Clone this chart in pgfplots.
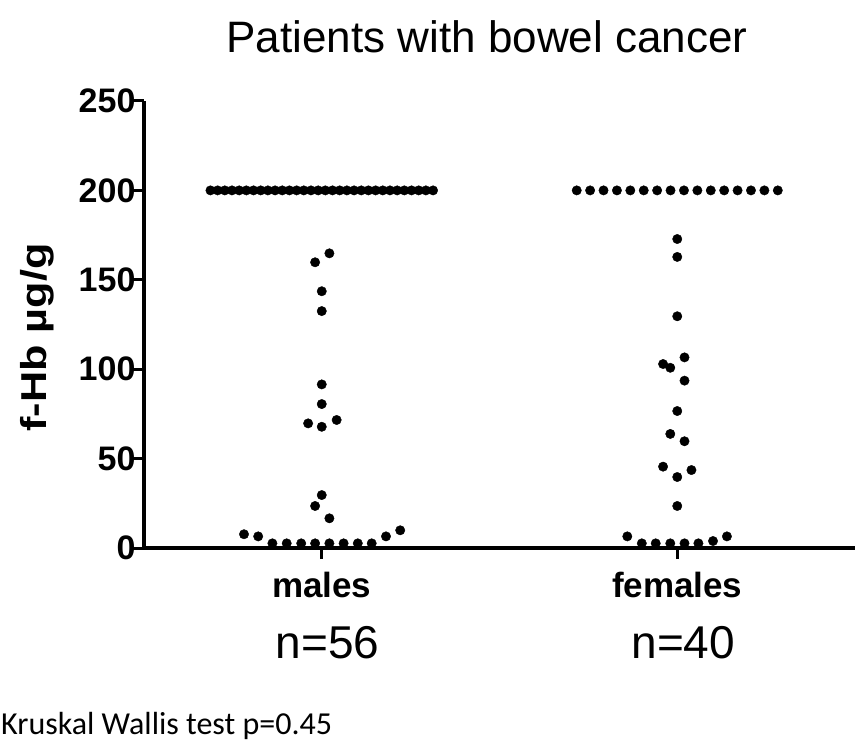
\documentclass[border=0pt]{standalone}
\usepackage{pgfplots}
\pgfplotsset{compat=1.18}
\usepackage{fontspec}
\setmainfont{Liberation Sans}
\newfontfamily\calibri{Carlito}
\newfontfamily\widesans[FakeStretch=1.2]{Liberation Sans}

% males: 32 patients at the upper limit (200), the rest spread out
\pgfplotstableread{
x y
0.6869 200
0.7071 200
0.7273 200
0.7475 200
0.7677 200
0.7879 200
0.8081 200
0.8283 200
0.8485 200
0.8687 200
0.8889 200
0.9091 200
0.9293 200
0.9495 200
0.9697 200
0.9899 200
1.0101 200
1.0303 200
1.0505 200
1.0707 200
1.0909 200
1.1111 200
1.1313 200
1.1515 200
1.1717 200
1.1919 200
1.2121 200
1.2323 200
1.2525 200
1.2727 200
1.2929 200
1.3131 200
1.0215 164.8
0.9813 159.8
1.0000 143.6
1.0000 132.5
1.0000 91.5
1.0000 80.5
0.9617 69.7
1.0000 67.8
1.0419 71.6
1.0000 29.6
0.9813 23.5
1.0215 16.6
0.7813 7.7
0.8212 6.5
0.8612 2.6
0.9014 2.6
0.9422 2.6
0.9813 2.6
1.0215 2.6
1.0615 2.6
1.1014 2.6
1.1405 2.6
1.1807 6.5
1.2207 9.9
}\males

\pgfplotstableread{
x y
1.7172 200
1.7549 200
1.7926 200
1.8303 200
1.8680 200
1.9057 200
1.9434 200
1.9811 200
2.0189 200
2.0566 200
2.0943 200
2.1320 200
2.1697 200
2.2074 200
2.2451 200
2.2828 200
2.0000 172.8
2.0000 162.8
2.0000 129.6
2.0204 106.6
1.9601 102.9
1.9804 100.8
2.0204 93.6
2.0000 76.6
1.9804 63.8
2.0204 59.7
1.9601 45.5
2.0399 43.6
2.0000 39.7
2.0000 23.5
1.8595 6.5
1.9003 2.6
1.9394 2.6
1.9804 2.6
2.0204 2.6
2.0595 2.6
2.1006 3.9
2.1397 6.5
}\females

\begin{document}
\begin{tikzpicture}
\useasboundingbox (0,0) rectangle (858pt,745pt);
\begin{axis}[
    scale only axis,
    width=711pt, height=447pt,
    at={(144pt,197pt)}, anchor=south west,
    xmin=0.5, xmax=2.5,
    ymin=0, ymax=250,
    axis x line*=bottom, axis y line*=left,
    axis line style={line width=3.5pt},
    xtick={1,2}, xticklabels={males,females},
    ytick={0,50,...,250},
    tick align=outside,
    major tick length=11pt,
    every tick/.style={black, line width=3pt},
    yticklabel style={font=\fontsize{34}{36}\selectfont\bfseries, xshift=6pt},
    xticklabel style={font=\fontsize{35}{37}\selectfont\bfseries, yshift=-10pt},
    /pgf/number format/assume math mode=true,
    ylabel={f-Hb µg/g},
    ylabel style={font=\widesans\fontsize{36}{38}\selectfont\bfseries,
        at={([xshift=-107pt]rel axis cs:0,0.471)}, anchor=center},
    clip=false,
]
\addplot[only marks, mark=*, mark size=4.7pt, black] table {\males};
\addplot[only marks, mark=*, mark size=4.7pt, black] table {\females};
\node[font=\fontsize{46}{48}\selectfont, xshift=6pt] at (axis cs:1,-53) {n=56};
\node[font=\fontsize{46}{48}\selectfont, xshift=6pt] at (axis cs:2,-53) {n=40};
\end{axis}
\node[anchor=base, font=\fontsize{44}{46}\selectfont] at (487pt,692pt) {Patients with bowel cancer};
\node[anchor=base west, inner sep=0pt, font=\calibri\fontsize{32}{34}\selectfont] at (1pt,11pt) {Kruskal Wallis test p=0.45};
\end{tikzpicture}
\end{document}
